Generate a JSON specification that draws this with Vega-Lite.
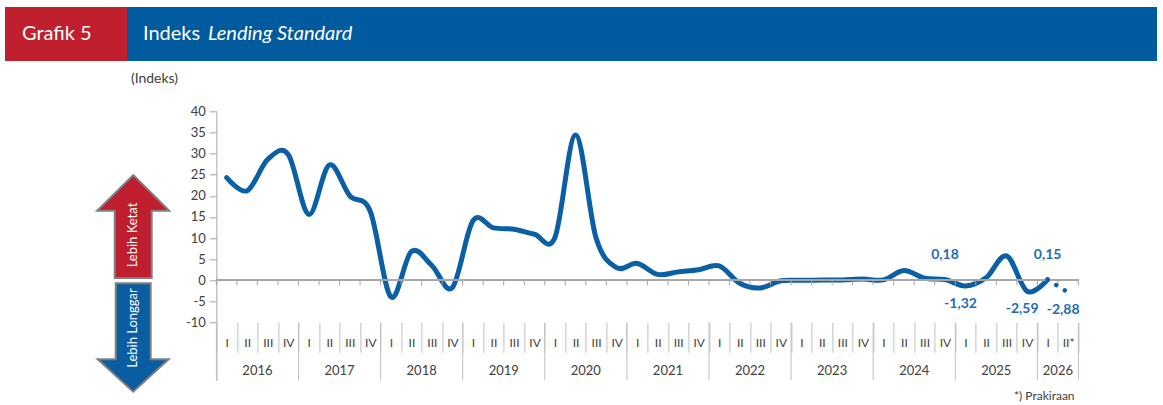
{
  "$schema": "https://vega.github.io/schema/vega-lite/v6.json",
  "background": "white",
  "padding": {"left": 5, "top": 7, "right": 0, "bottom": 0},
  "bounds": "flush",
  "spacing": 104.3,
  "config": {
    "font": "Lato",
    "view": {"stroke": null},
    "axisY": {
      "grid": false, "labelOverlap": false, "domainColor": "#a6a6a6", "tickColor": "#a6a6a6",
      "tickSize": 7, "labelPadding": 4, "labelFontSize": 13, "labelColor": "#404040"
    },
    "locale": {
      "number": {"decimal": ",", "thousands": ".", "grouping": [3], "currency": ["", ""], "minus": "-"}
    }
  },
  "datasets": {
    "quarters": [
      {"q": "2016-I", "v": 24.3, "s": "a"},
      {"q": "2016-II", "v": 21.2, "s": "a"},
      {"q": "2016-III", "v": 28.6, "s": "a"},
      {"q": "2016-IV", "v": 29.8, "s": "a"},
      {"q": "2017-I", "v": 15.6, "s": "a"},
      {"q": "2017-II", "v": 27.3, "s": "a"},
      {"q": "2017-III", "v": 20.0, "s": "a"},
      {"q": "2017-IV", "v": 16.3, "s": "a"},
      {"q": "2018-I", "v": -3.9, "s": "a"},
      {"q": "2018-II", "v": 6.8, "s": "a"},
      {"q": "2018-III", "v": 3.5, "s": "a"},
      {"q": "2018-IV", "v": -1.7, "s": "a"},
      {"q": "2019-I", "v": 14.1, "s": "a"},
      {"q": "2019-II", "v": 12.4, "s": "a"},
      {"q": "2019-III", "v": 12.1, "s": "a"},
      {"q": "2019-IV", "v": 10.9, "s": "a"},
      {"q": "2020-I", "v": 10.2, "s": "a"},
      {"q": "2020-II", "v": 34.4, "s": "a"},
      {"q": "2020-III", "v": 10.0, "s": "a"},
      {"q": "2020-IV", "v": 3.0, "s": "a"},
      {"q": "2021-I", "v": 4.0, "s": "a"},
      {"q": "2021-II", "v": 1.4, "s": "a"},
      {"q": "2021-III", "v": 2.0, "s": "a"},
      {"q": "2021-IV", "v": 2.5, "s": "a"},
      {"q": "2022-I", "v": 3.4, "s": "a"},
      {"q": "2022-II", "v": -0.7, "s": "a"},
      {"q": "2022-III", "v": -1.8, "s": "a"},
      {"q": "2022-IV", "v": -0.1, "s": "a"},
      {"q": "2023-I", "v": 0.0, "s": "a"},
      {"q": "2023-II", "v": 0.1, "s": "a"},
      {"q": "2023-III", "v": 0.1, "s": "a"},
      {"q": "2023-IV", "v": 0.3, "s": "a"},
      {"q": "2024-I", "v": 0.1, "s": "a"},
      {"q": "2024-II", "v": 2.3, "s": "a"},
      {"q": "2024-III", "v": 0.5, "s": "a"},
      {"q": "2024-IV", "v": 0.18, "s": "a"},
      {"q": "2025-I", "v": -1.32, "s": "a"},
      {"q": "2025-II", "v": 0.6, "s": "a"},
      {"q": "2025-III", "v": 5.8, "s": "a"},
      {"q": "2025-IV", "v": -2.59, "s": "a"},
      {"q": "2026-I", "v": 0.15, "s": "a"},
      {"q": "2026-II*", "v": -2.88, "s": "f"}
    ],
    "labels": [
      {"q": "2024-IV", "v": 0.18},
      {"q": "2025-I", "v": -1.32},
      {"q": "2025-IV", "v": -2.59},
      {"q": "2026-I", "v": 0.15},
      {"q": "2026-II*", "v": -2.88}
    ],
    "years": [
      {"year": "2016", "mid": "2016-II"},
      {"year": "2017", "mid": "2017-II"},
      {"year": "2018", "mid": "2018-II"},
      {"year": "2019", "mid": "2019-II"},
      {"year": "2020", "mid": "2020-II"},
      {"year": "2021", "mid": "2021-II"},
      {"year": "2022", "mid": "2022-II"},
      {"year": "2023", "mid": "2023-II"},
      {"year": "2024", "mid": "2024-II"},
      {"year": "2025", "mid": "2025-II"},
      {"year": "2026", "mid": "2026-I"}
    ]
  },
  "vconcat": [
    {
      "bounds": "flush",
      "spacing": 0,
      "hconcat": [
        {
          "width": 122,
          "height": 54,
          "view": {"fill": "#c0202e", "stroke": null},
          "data": {"values": [{"t": "Grafik 5"}]},
          "mark": {"type": "text", "color": "white", "fontSize": 20, "align": "left", "baseline": "middle", "dx": -44},
          "encoding": {"text": {"field": "t"}}
        },
        {
          "width": 1030,
          "height": 54,
          "view": {"fill": "#005b9e", "stroke": null},
          "data": {"values": [{"a": "Indeks", "b": "Lending Standard"}]},
          "layer": [
            {
              "mark": {"type": "text", "color": "white", "fontSize": 20, "align": "left", "baseline": "middle", "dx": -499},
              "encoding": {"text": {"field": "a"}}
            },
            {
              "mark": {"type": "text", "color": "white", "fontSize": 20, "fontStyle": "italic", "align": "left", "baseline": "middle", "dx": -434},
              "encoding": {"text": {"field": "b"}}
            }
          ]
        }
      ]
    },
    {
      "bounds": "flush",
      "spacing": 47.7,
      "hconcat": [
        {
          "width": 44.3,
          "height": 269,
          "data": {"values": []},
          "mark": "point",
          "encoding": {}
        },
        {
          "width": 71,
          "height": 269,
          "data": {"values": [{}]},
          "layer": [
            {
              "mark": {"type": "point", "shape": "M0,-0.936L0.655,-0.287L0.336,-0.287L0.336,0.936L-0.336,0.936L-0.336,-0.287L-0.655,-0.287Z", "size": 12100, "fill": "#be1e2d", "fillOpacity": 1, "stroke": "#808080", "strokeWidth": 2, "opacity": 1},
              "encoding": {"y": {"datum": 12.73, "type": "quantitative", "scale": {"domain": [-23.66, 40], "nice": false, "zero": false}, "axis": null}}
            },
            {
              "mark": {"type": "point", "shape": "M-0.318,-0.985L0.318,-0.985L0.318,0.396L0.645,0.396L0,0.985L-0.645,0.396L-0.318,0.396Z", "size": 12100, "fill": "#0b5da2", "fillOpacity": 1, "stroke": "#808080", "strokeWidth": 2, "opacity": 1},
              "encoding": {"y": {"datum": -13.54, "type": "quantitative", "axis": null}}
            },
            {
              "mark": {"type": "text", "text": "Lebih Ketat", "angle": 270, "color": "white", "fontSize": 13, "baseline": "middle"},
              "encoding": {"y": {"datum": 10.72, "type": "quantitative", "axis": null}}
            },
            {
              "mark": {"type": "text", "text": "Lebih Longgar", "angle": 270, "color": "white", "fontSize": 13, "baseline": "middle"},
              "encoding": {"y": {"datum": -11.29, "type": "quantitative", "axis": null}}
            }
          ]
        },
        {
          "width": 862,
          "height": 269,
          "title": {"text": "*) Prakiraan", "orient": "bottom", "anchor": "end", "fontSize": 12, "fontWeight": "normal", "color": "#404040", "offset": 10, "dx": -5},
          "layer": [
            {
              "data": {"name": "quarters"},
              "transform": [{"filter": "datum.s == 'a'"}],
              "mark": {"type": "line", "interpolate": "cardinal", "tension": 0, "color": "#0b5fa5", "strokeWidth": 5, "strokeCap": "round", "strokeJoin": "round"},
              "encoding": {
                "x": {
                  "field": "q", "type": "ordinal", "title": null,
                  "scale": {"type": "band", "paddingInner": 0, "paddingOuter": 0},
                  "axis": {
                    "orient": "bottom", "offset": -58, "domain": false,
                    "tickBand": "extent", "tickSize": 30, "tickColor": "#c0c0c0", "tickWidth": 1,
                    "labelExpr": "split(datum.value, '-')[1]", "labelAngle": 0, "labelBaseline": "middle",
                    "labelPadding": -10, "labelFontSize": 12, "labelColor": "#404040", "labelOverlap": false
                  }
                },
                "y": {
                  "field": "v", "type": "quantitative", "title": "(Indeks)",
                  "scale": {"domain": [-23.66, 40], "nice": false, "zero": false},
                  "axis": {
                    "values": [-10, -5, 0, 5, 10, 15, 20, 25, 30, 35, 40],
                    "titleAngle": 0, "titleAlign": "left", "titleBaseline": "middle",
                    "titleX": -86, "titleY": -33, "titleFontSize": 14, "titleFontWeight": "normal", "titleColor": "#404040"
                  }
                }
              }
            },
            {
              "data": {"name": "quarters"},
              "mark": {"type": "rule", "color": "#a6a6a6", "strokeWidth": 1},
              "encoding": {"y": {"datum": 0, "type": "quantitative", "axis": {"values": [-10, -5, 0, 5, 10, 15, 20, 25, 30, 35, 40]}}}
            },
            {
              "data": {"name": "quarters"},
              "mark": {"type": "rule", "color": "#a6a6a6", "strokeWidth": 1},
              "encoding": {
                "x": {"field": "q", "type": "ordinal", "bandPosition": 0, "title": null},
                "y": {"datum": 0, "type": "quantitative", "axis": {"values": [-10, -5, 0, 5, 10, 15, 20, 25, 30, 35, 40]}},
                "y2": {"datum": -1.2}
              }
            },
            {
              "data": {"name": "quarters"},
              "transform": [{"filter": "datum.q == '2026-II*'"}],
              "mark": {"type": "rule", "color": "#a6a6a6", "strokeWidth": 1},
              "encoding": {
                "x": {"field": "q", "type": "ordinal", "bandPosition": 1, "title": null},
                "y": {"datum": 0, "type": "quantitative", "axis": {"values": [-10, -5, 0, 5, 10, 15, 20, 25, 30, 35, 40]}},
                "y2": {"datum": -1.2}
              }
            },
            {
              "data": {"name": "quarters"},
              "transform": [{"filter": "test(regexp('-I$'), datum.q)"}],
              "mark": {"type": "rule", "color": "#c0c0c0", "strokeWidth": 1},
              "encoding": {
                "x": {"field": "q", "type": "ordinal", "bandPosition": 0, "title": null},
                "y": {"datum": -10, "type": "quantitative", "axis": {"values": [-10, -5, 0, 5, 10, 15, 20, 25, 30, 35, 40]}},
                "y2": {"datum": -23.66}
              }
            },
            {
              "data": {"name": "quarters"},
              "transform": [{"filter": "datum.q == '2026-II*'"}],
              "mark": {"type": "rule", "color": "#c0c0c0", "strokeWidth": 1},
              "encoding": {
                "x": {"field": "q", "type": "ordinal", "bandPosition": 1, "title": null},
                "y": {"datum": -10, "type": "quantitative", "axis": {"values": [-10, -5, 0, 5, 10, 15, 20, 25, 30, 35, 40]}},
                "y2": {"datum": -23.66}
              }
            },
            {
              "data": {"name": "years"},
              "mark": {"type": "text", "fontSize": 13, "color": "#404040", "baseline": "middle"},
              "encoding": {
                "x": {"field": "mid", "type": "ordinal", "bandPosition": 1, "title": null},
                "y": {"datum": -21.5, "type": "quantitative", "axis": {"values": [-10, -5, 0, 5, 10, 15, 20, 25, 30, 35, 40]}},
                "text": {"field": "year"}
              }
            },
            {
              "data": {"name": "quarters"},
              "transform": [{"filter": "datum.s == 'f' || datum.q == '2026-I'"}],
              "mark": {"type": "line", "color": "#0b5fa5", "strokeWidth": 4.5, "strokeCap": "round", "strokeDash": [0.1, 10]},
              "encoding": {
                "x": {"field": "q", "type": "ordinal", "title": null},
                "y": {"field": "v", "type": "quantitative", "axis": {"values": [-10, -5, 0, 5, 10, 15, 20, 25, 30, 35, 40]}}
              }
            },
            {
              "data": {"name": "labels"},
              "transform": [{"filter": "datum.v > 0"}],
              "mark": {"type": "text", "fontSize": 14, "fontWeight": "bold", "color": "#1f6db0", "baseline": "middle", "dy": -25},
              "encoding": {
                "x": {"field": "q", "type": "ordinal", "title": null},
                "y": {"field": "v", "type": "quantitative", "axis": {"values": [-10, -5, 0, 5, 10, 15, 20, 25, 30, 35, 40]}},
                "text": {"field": "v", "type": "quantitative", "format": ".2f"}
              }
            },
            {
              "data": {"name": "labels"},
              "transform": [{"filter": "datum.v < 0"}],
              "mark": {"type": "text", "fontSize": 14, "fontWeight": "bold", "color": "#1f6db0", "baseline": "middle", "dy": 18, "dx": -5},
              "encoding": {
                "x": {"field": "q", "type": "ordinal", "title": null},
                "y": {"field": "v", "type": "quantitative", "axis": {"values": [-10, -5, 0, 5, 10, 15, 20, 25, 30, 35, 40]}},
                "text": {"field": "v", "type": "quantitative", "format": ".2f"}
              }
            }
          ]
        }
      ]
    }
  ]
}
